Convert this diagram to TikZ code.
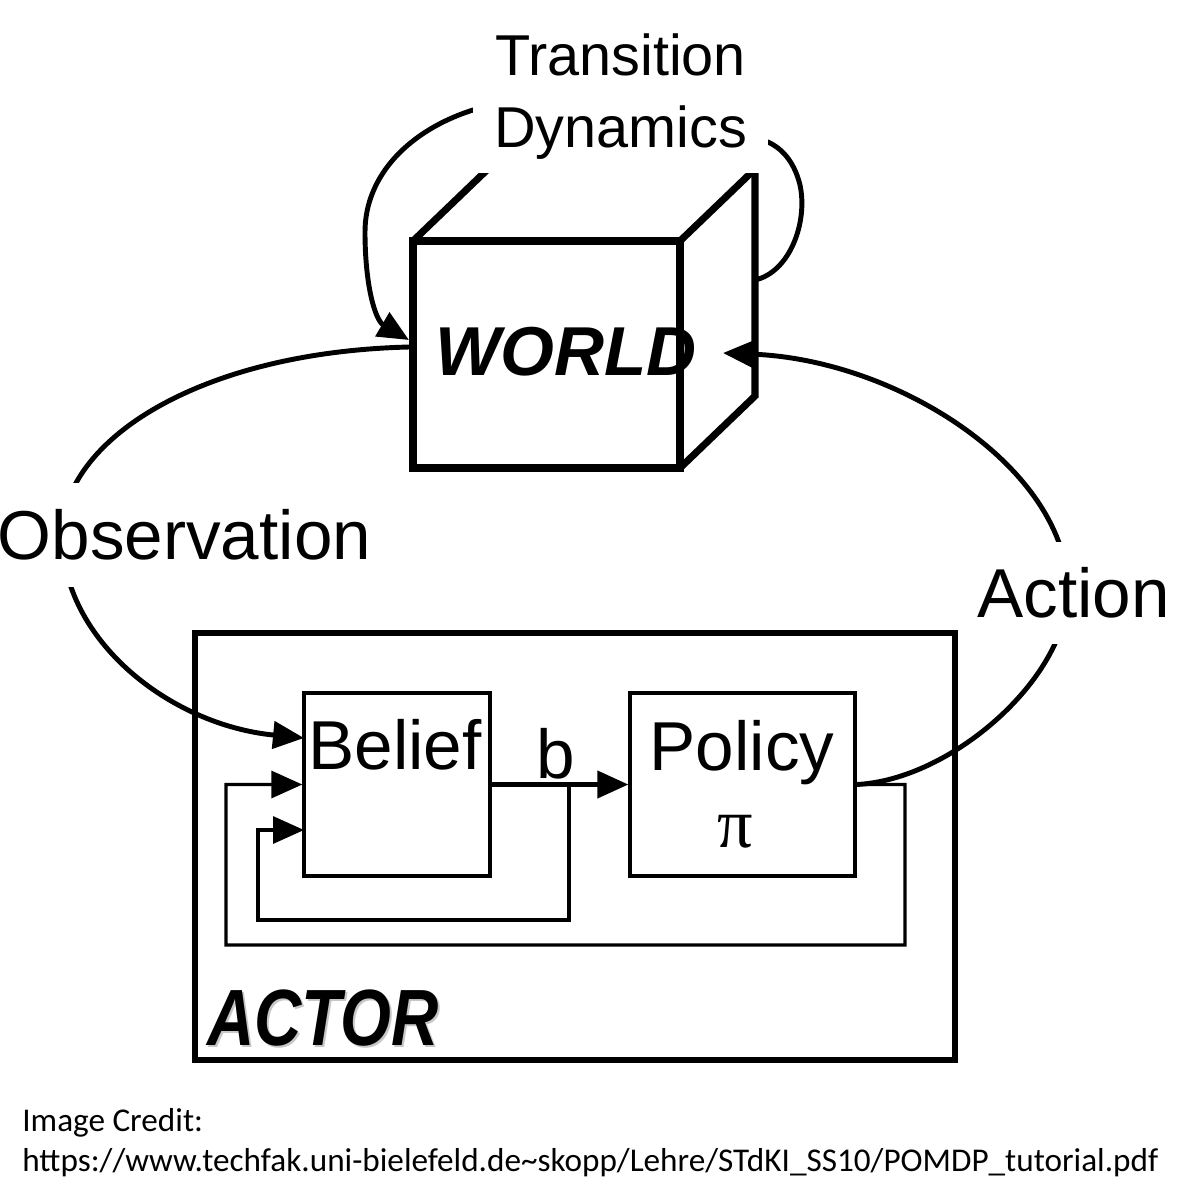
\documentclass[tikz,border=0pt]{standalone}
\usepackage{fontspec}
\setmainfont{Liberation Sans}
\newfontfamily\pifont{Liberation Serif}
\newfontfamily\creditfont{Carlito}
\usetikzlibrary{arrows.meta,fit}
\begin{document}
\begin{tikzpicture}[x=0.02cm,y=-0.02cm,
  cubeline/.style={line width=4pt, line join=miter},
  curve/.style={line width=2.8pt},
  boxst/.style={draw, line width=1.9pt, inner sep=0pt},
  loopst/.style={line width=1.9pt},
  tip/.style={-{Triangle[length=0.62cm,width=0.54cm]}},
  big/.style={inner sep=0pt, font=\fontsize{39.4pt}{46pt}\selectfont},
  cutlabel/.style={big, fill=white, inner xsep=0pt},
  credit/.style={anchor=base west, inner sep=0pt, font=\creditfont\fontsize{18.9pt}{22pt}\selectfont},
]
\useasboundingbox (0,0) rectangle (1192,1204);

% ---- WORLD cube ----
\coordinate (fTL) at (413,241);
\coordinate (fTR) at (680,241);
\coordinate (fBR) at (680,468);
\coordinate (fBL) at (413,468);
\coordinate (bTL) at (488,169);
\coordinate (bTR) at (755,169);
\coordinate (bBR) at (755,396);
\draw[cubeline] (fTL) rectangle (fBR);
\draw[cubeline] (fTL) -- (bTL) -- (bTR) -- (bBR) -- (fBR);
\draw[cubeline] (fTR) -- (bTR);
\node[fit=(fTL)(fBR), inner sep=0pt] (world) {};

% ---- Transition dynamics loop ----
\coordinate (trOut) at (755,280);
\coordinate (trIn) at (409,340);
\draw[curve, tip] (trOut) .. controls (790,272) and (808,222) .. (800,185)
  .. controls (795,165) and (785,150) .. (768,142) -- (473,110)
  .. controls (410,130) and (365,175) .. (365,232)
  .. controls (365,285) and (375,320) .. (trIn);
\node[fill=white, inner sep=0pt, minimum width=5.9cm, minimum height=3.06cm,
  align=center, font=\fontsize{32.8pt}{40.8pt}\selectfont] (td) at (620.5,96.5)
  {Transition\\Dynamics};

\node[inner sep=0pt, font=\fontsize{39.4pt}{46pt}\selectfont\bfseries\itshape]
  (worldtxt) at (566,352) {WORLD};

% ---- ACTOR ----
\node[draw, line width=3.7pt, fit={(195,633) (955,1060)}, inner sep=0pt] (actor) {};
\node[anchor=base west, inner sep=0pt,
  font=\fontsize{45.4pt}{50pt}\selectfont\bfseries\itshape] (actortxt) at (207,1045)
  {\makebox[0pt][l]{\kern0.04cm\raisebox{-0.04cm}{\textcolor{black!22}{\scalebox{0.82}[1]{ACTOR}}}}\scalebox{0.82}[1]{ACTOR}};

\node[boxst, fit={(304,693) (490,876)}] (belief) {};
\node[boxst, fit={(630,693) (855,876)}] (policy) {};
\node[big, anchor=base] (belieftxt) at (395,769) {Belief};
\node[big, anchor=base] (policytxt) at (742,770) {Policy};
\node[inner sep=0pt, anchor=base, font=\pifont\fontsize{40pt}{46pt}\selectfont]
  (pitxt) at (735,847) {π};
\node[big, anchor=base] (btxt) at (556,778) {b};

% b arrow and feedback loops
\coordinate (split) at (569,784.5);
\coordinate (inner) at (304,830);
\draw[line width=2.4pt, tip] (belief.east) -- (policy.west);
\draw[loopst, tip] (split) -- (569,920) -- (258,920) -- (258,830) -- (inner);
\draw[loopst, tip] (policy.east) -- (905,784.5) -- (905,945) -- (226,945)
  -- (226,784.5) -- (belief.west);

% ---- Observation ----
\coordinate (obsOut) at (409,347);
\coordinate (obsIn) at (304,738);
\draw[curve, tip] (obsOut) .. controls (200,352) and (62,440) .. (62,535)
  .. controls (62,640) and (170,725) .. (obsIn);
\node[cutlabel, minimum height=2.08cm] (obs) at (184.5,535) {Observation};

% ---- Action ----
\coordinate (actIn) at (723,353);
\draw[curve, tip] (policy.east) .. controls (950,780) and (1066,680) .. (1068,592)
  .. controls (1068,470) and (900,360) .. (actIn);
\node[cutlabel, minimum height=2.06cm] (act) at (1073.5,593) {Action};

% ---- credit ----
\node[credit] (credit1) at (22,1131) {Image Credit:};
\node[credit] (credit2) at (22,1171)
  {https://www.techfak.uni-bielefeld.de\textasciitilde skopp/Lehre/STdKI\_SS10/POMDP\_tutorial.pdf};
\end{tikzpicture}
\end{document}
